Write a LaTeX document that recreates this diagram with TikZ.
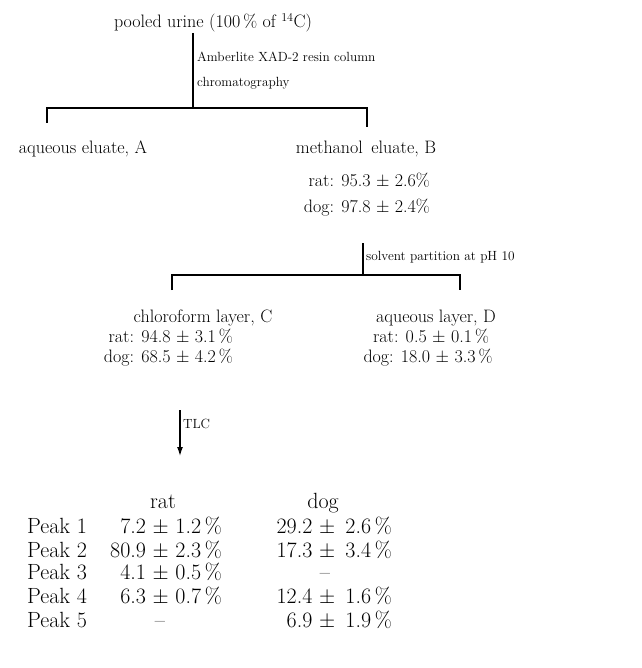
\documentclass[tikz,border=0pt]{standalone}
\usepackage{amsmath, amssymb}
\usetikzlibrary{positioning, calc, arrows.meta}

\begin{document}
\begin{tikzpicture}[
		x=1pt, y=-1pt,
		% Text styles
		item/.style={font=\fontsize{18}{21}\selectfont, inner sep=0pt, anchor=base},
		step label/.style={font=\fontsize{13.3}{15}\selectfont, inner sep=0pt, anchor=base west},
		peak/.style={font=\fontsize{22}{24}\selectfont, inner sep=0pt, anchor=base},
		% Connector styles
		link/.style={line width=1.3pt},
		arrow/.style={link, -{Latex[length=9pt, width=6pt]}}
		]
		\useasboundingbox (0,0) rectangle (641,668);
		
		% ==============================================================================
		% 1. POOLED URINE & RESIN COLUMN
		% ==============================================================================
		\node[item] (urine) at (213,28) {pooled urine (100\,\% of $^{14}$C)};
		
		\coordinate (s1top) at (193,33);
		\coordinate (s1) at (193,108);
		\coordinate (s1L) at (47,123);
		\coordinate (s1R) at (367,127);
		\draw[link] (s1top) -- (s1);
		\draw[link] (s1L) |- (s1) -| (s1R);
		
		\node[step label] (resin) at (197,62) {Amberlite XAD-2 resin column};
		\node[step label] (chrom) at (197,87) {chromatography};
		
		% ==============================================================================
		% 2. ELUATES A AND B
		% ==============================================================================
		\node[item] (eluA) at (83,154) {aqueous eluate, A};
		\node[item] (eluB) at (366,154) {methanol\, eluate, B};
		\node[item, anchor=base east] (eluBrat) at (430,187) {rat: 95.3 $\pm$ 2.6\%};
		\node[item, anchor=base east] (eluBdog) at (430,212) {dog: 97.8 $\pm$ 2.4\%};
		
		% ==============================================================================
		% 3. SOLVENT PARTITION
		% ==============================================================================
		\coordinate (s2top) at (363,243);
		\coordinate (s2) at (363,275);
		\coordinate (s2L) at (172,290);
		\coordinate (s2R) at (460,290);
		\draw[link] (s2top) -- (s2);
		\draw[link] (s2L) |- (s2) -| (s2R);
		
		\node[step label] (solv) at (366,260) {solvent partition at pH 10};
		
		\node[item] (layC) at (203,322) {chloroform layer, C};
		\node[item, anchor=base east] (layCrat) at (233,342) {rat: 94.8 $\pm$ 3.1\,\%};
		\node[item, anchor=base east] (layCdog) at (233,362) {dog: 68.5 $\pm$ 4.2\,\%};
		
		\node[item] (layD) at (436,322) {aqueous layer, D};
		\node[item] (layDrat) at (431,342) {rat: 0.5 $\pm$ 0.1\,\%};
		\node[item] (layDdog) at (428,362) {dog: 18.0 $\pm$ 3.3\,\%};
		
		% ==============================================================================
		% 4. TLC AND PEAKS
		% ==============================================================================
		\coordinate (tlctop) at (180,410);
		\coordinate (tlcend) at (180,456);
		\draw[arrow] (tlctop) -- (tlcend);
		\node[step label] (tlc) at (183,428) {TLC};
		
		\node[peak] (hrat) at (163,508) {rat};
		\node[peak] (hdog) at (323,508) {dog};
		
		\foreach \i/\y in {1/533, 2/557, 3/579, 4/603, 5/627}
			\node[peak, anchor=base west] (peak\i) at (27,\y) {Peak \i};
		
		% rat column
		\node[peak, anchor=base east] (rat1) at (222,533) {7.2 $\pm$ 1.2\,\%};
		\node[peak, anchor=base east] (rat2) at (222,557) {80.9 $\pm$ 2.3\,\%};
		\node[peak, anchor=base east] (rat3) at (222,579) {4.1 $\pm$ 0.5\,\%};
		\node[peak, anchor=base east] (rat4) at (222,603) {6.3 $\pm$ 0.7\,\%};
		\node[peak] (rat5) at (160,627) {--};
		
		% dog column
		\node[peak, anchor=base east] (dog1) at (392,533) {29.2 $\pm$\, 2.6\,\%};
		\node[peak, anchor=base east] (dog2) at (392,557) {17.3 $\pm$\, 3.4\,\%};
		\node[peak] (dog3) at (325,579) {--};
		\node[peak, anchor=base east] (dog4) at (392,603) {12.4 $\pm$\, 1.6\,\%};
		\node[peak, anchor=base east] (dog5) at (392,627) {6.9 $\pm$\, 1.9\,\%};
	\end{tikzpicture}
\end{document}
